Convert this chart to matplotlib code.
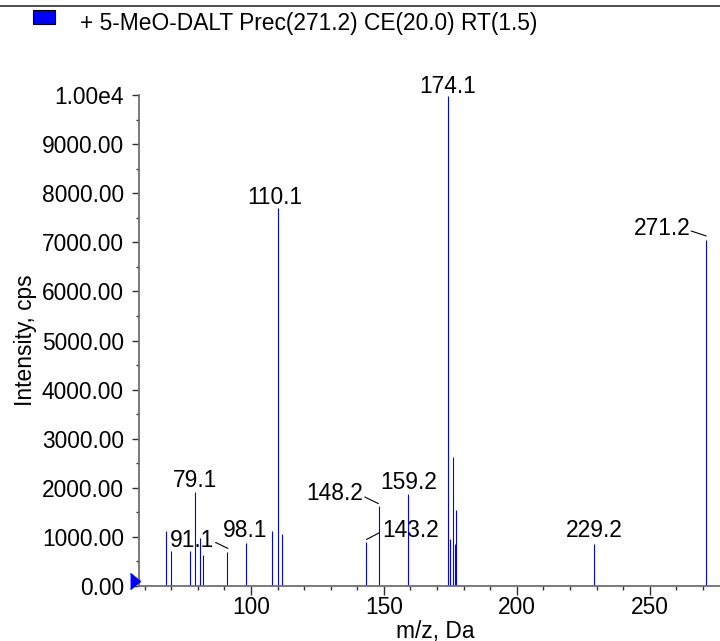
import matplotlib
matplotlib.use('Agg')
import matplotlib.pyplot as plt
from matplotlib.patches import Rectangle
from matplotlib.lines import Line2D
from matplotlib.ticker import MultipleLocator, FuncFormatter
from matplotlib.transforms import offset_copy

plt.rcParams['font.family'] = ['Liberation Sans', 'DejaVu Sans']

# Dữ liệu phổ MS/MS (m/z, cường độ)
mz = [67.9, 69.9, 77.1, 79.1, 81.0, 82.1, 91.1, 98.1, 108.1, 110.1, 111.5,
      143.2, 148.2, 159.2, 174.1, 175.0, 175.8, 176.6, 177.3, 229.2, 271.2]
intensity = [1130, 716, 716, 1913, 987, 629, 690, 872, 1115, 7694, 1068,
             899, 1623, 1880, 9980, 967, 2637, 852, 1556, 852, 7047]

title = '+ 5-MeO-DALT Prec(271.2) CE(20.0) RT(1.5)'
labeled = ['79.1', '91.1', '98.1', '110.1', '143.2', '148.2', '159.2',
           '174.1', '229.2', '271.2']

# vị trí nhãn (pixel): dx, dy, ha, leader line (x0, y0, x1, y1) hoặc None
label_pos = {
    '174.1': (0, 3, 'center', None),
    '110.1': (-3, 4, 'center', None),
    '79.1': (0, 5, 'center', None),
    '91.1': (-12.7, 5.3, 'right', (-11.7, 9.7, 0.6, 3.7)),
    '98.1': (-1, 5.7, 'center', None),
    '148.2': (-16, 6, 'right', (-14.3, 9.3, -0.7, 2.7)),
    '143.2': (16.3, 5, 'left', (0.7, 2.4, 13.3, 9)),
    '159.2': (0.3, 5, 'center', None),
    '229.2': (0, 6.7, 'center', None),
    '271.2': (-16, 5, 'right', (-15, 9, 0, 4)),
}

W, H = 720, 641
fig = plt.figure(figsize=(W / 100, H / 100), dpi=100)
ax = fig.add_axes([139 / W, 55 / H, 581 / W, 491 / H])

ax.vlines(mz, 0, intensity, colors='#0000ff', lw=0.8)

ax.set_xlim(57.9, 276.4)
ax.set_ylim(0, 10000)

for s in ['top', 'right']:
    ax.spines[s].set_visible(False)
for s in ['left', 'bottom']:
    ax.spines[s].set_color('#707070')
    ax.spines[s].set_linewidth(1.3)

ax.xaxis.set_major_locator(MultipleLocator(50))
ax.xaxis.set_minor_locator(MultipleLocator(10))
ax.yaxis.set_major_locator(MultipleLocator(1000))
ax.yaxis.set_minor_locator(MultipleLocator(500))

def fmt_y(v, pos):
    if v >= 10000:
        return '1.00e4'
    return f'{v:.2f}'

ax.yaxis.set_major_formatter(FuncFormatter(fmt_y))

fs = 16.4
ax.tick_params(axis='x', which='major', length=6.5, width=1, color='#303030',
               labelsize=fs, pad=0.5)
ax.tick_params(axis='x', which='minor', length=3, width=1, color='#303030')
ax.tick_params(axis='y', which='major', length=5, width=1, color='#303030',
               labelsize=fs, pad=5.8)
ax.tick_params(axis='y', which='minor', length=2.2, width=1, color='#303030')

ax.set_xlabel('m/z, Da', fontsize=fs)
ax.xaxis.set_label_coords(0.51, -0.069)
ax.set_ylabel('Intensity, cps', fontsize=fs)
ax.yaxis.set_label_coords(-0.175, 0.5)

# nhãn đỉnh
for x, y in zip(mz, intensity):
    key = f'{x:.1f}'
    if key not in labeled:
        continue
    dx, dy, ha, line = label_pos[key]
    tr = offset_copy(ax.transData, fig=fig, x=dx, y=dy, units='dots')
    ax.text(x, y, key, transform=tr, ha=ha, va='baseline', fontsize=fs,
            clip_on=False)
    if line is not None:
        x0, y0, x1, y1 = line
        t1 = offset_copy(ax.transData, fig=fig, x=x1, y=y1, units='dots')
        ax.annotate('', xy=(x, y), xycoords=t1, xytext=(x0 - x1, y0 - y1),
                    textcoords='offset pixels',
                    arrowprops=dict(arrowstyle='-', lw=0.8, color='black',
                                    shrinkA=0, shrinkB=0))

# tam giác xanh ở gốc trục y
ax.plot([-4 / 581], [100], marker=[(-0.31, -0.5), (0.31, 0), (-0.31, 0.5)],
        ms=11.5, color='#0000ff', transform=ax.get_yaxis_transform(),
        clip_on=False, zorder=5)

# đường kẻ trên cùng và chú thích
fig.add_artist(Line2D([0, 1], [1 - 6 / H, 1 - 6 / H], color='#404040', lw=1.3))
fig.add_artist(Rectangle((33 / W, 1 - 24 / H), 22 / W, 14 / H,
                         facecolor='#0000ff', edgecolor='black', lw=0.8))
fig.text(80 / W, 1 - 30 / H, title, fontsize=fs, ha='left', va='baseline')

fig.savefig('out.png', dpi=100)
